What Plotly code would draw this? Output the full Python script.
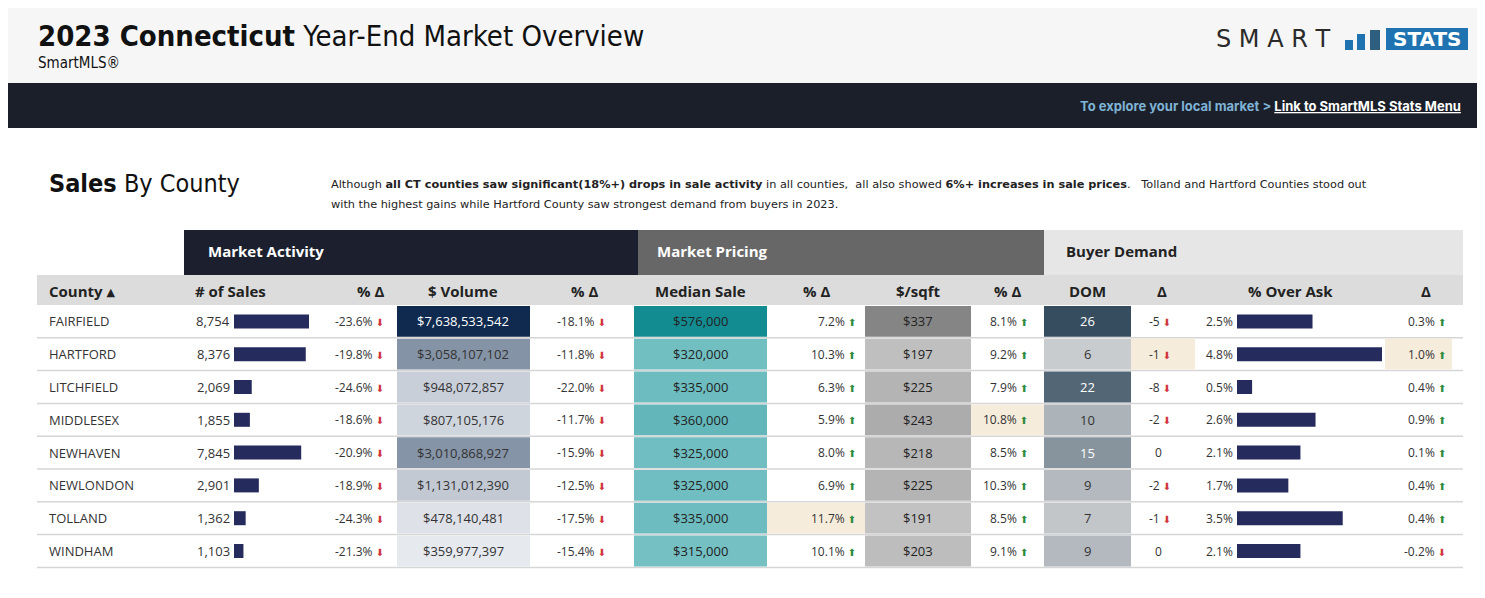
import plotly.graph_objects as go

counties = ["FAIRFIELD","HARTFORD","LITCHFIELD","MIDDLESEX","NEWHAVEN","NEWLONDON","TOLLAND","WINDHAM"]
sales = [8754, 8376, 2069, 1855, 7845, 2901, 1362, 1103]
sales_chg = [-23.6, -19.8, -24.6, -18.6, -20.9, -18.9, -24.3, -21.3]
volume = [7638533542, 3058107102, 948072857, 807105176, 3010868927, 1131012390, 478140481, 359977397]
volume_chg = [-18.1, -11.8, -22.0, -11.7, -15.9, -12.5, -17.5, -15.4]
median = [576000, 320000, 335000, 360000, 325000, 325000, 335000, 315000]
median_chg = [7.2, 10.3, 6.3, 5.9, 8.0, 6.9, 11.7, 10.1]
sqft = [337, 197, 225, 243, 218, 225, 191, 203]
sqft_chg = [8.1, 9.2, 7.9, 10.8, 8.5, 10.3, 8.5, 9.1]
dom = [26, 6, 22, 10, 15, 9, 7, 9]
dom_chg = [-5, -1, -8, -2, 0, -2, -1, 0]
over_ask = [2.5, 4.8, 0.5, 2.6, 2.1, 1.7, 3.5, 2.1]
over_ask_chg = [0.3, 1.0, 0.4, 0.9, 0.1, 0.4, 0.4, -0.2]

W, H = 1485, 598
OFF = 8  # page body margin
ROW0, RH = 305, 32.8
SANS = "Open Sans"
COND = "DejaVu Sans Condensed"
RED, GREEN = "#d0343c", "#2e8b3e"
HIL = "#f6ecdc"

fig = go.Figure()
shapes, ann = [], []

def rect(x0, y0, x1, y1, color):
    shapes.append(dict(type="rect", xref="x", yref="y", x0=x0, x1=x1, y0=y0, y1=y1,
                       fillcolor=color, line=dict(width=0), layer="below"))

def text(x, y, s, size=13, color="#222", anchor="center", family=SANS):
    ann.append(dict(x=x, y=y, xref="x", yref="y", text=s, showarrow=False, xanchor=anchor,
                    yanchor="middle", font=dict(size=size, color=color, family=family)))

def mix(c1, c2, t):
    a = [int(c1[i:i+2], 16) for i in (1, 3, 5)]
    b = [int(c2[i:i+2], 16) for i in (1, 3, 5)]
    return "#%02x%02x%02x" % tuple(round(a[k] + (b[k]-a[k])*t) for k in range(3))

def norm(vals, v):
    return (v - min(vals)) / (max(vals) - min(vals))

def arrow(v):
    if v > 0:
        return f'<span style="color:{GREEN};font-size:10px;font-family:DejaVu Sans">⬆</span>'
    if v < 0:
        return f'<span style="color:{RED};font-size:10px;font-family:DejaVu Sans">⬇</span>'
    return ""

# page header
rect(0, 0, W + OFF, 83, "#f6f6f6")
rect(4, 83, W - 4, 128, "#1b1f2a")
text(36, 36, "<b>2023 Connecticut</b> Year-End Market Overview", 29, "#111", "left", COND)
text(36, 63, "SmartMLS®", 15, "#111", "left", COND)
text(1214, 39, "S M A R T", 24, "#2b2b2b", "left", "DejaVu Sans")
rect(1345, 40, 1353, 50, "#1f73b0")
rect(1357, 34, 1365, 50, "#1f73b0")
rect(1370, 30, 1380, 50, "#2f5f7f")
rect(1386, 28, 1468, 50, "#1f73b0")
text(1427, 39, "<b>STATS</b>", 20, "white", "center", "DejaVu Sans")
text(1463, 106, '<b><span style="color:#7fb3d5">To explore your local market > </span>'
     '<span style="color:white"><u>Link to SmartMLS Stats Menu</u></span></b>', 13, "white", "right", "Inter")

# section title & description
text(47, 183, "<b>Sales</b> By County", 25, "#111", "left", COND)
text(329, 184, "Although <b>all CT counties saw significant(18%+) drops in sale activity</b> in all counties,  all also showed <b>6%+ increases in sale prices</b>.   Tolland and Hartford Counties stood out", 11.3, "#222", "left", "DejaVu Sans")
text(329, 204, "with the highest gains while Hartford County saw strongest demand from buyers in 2023.", 11.3, "#222", "left", "DejaVu Sans")

# group headers
rect(184, 230, 638, 275, "#1b1f2e")
rect(638, 230, 1044, 275, "#676767")
rect(1044, 230, 1463, 275, "#e6e6e6")
text(206, 251, "<b>Market Activity</b>", 15, "white", "left")
text(655, 251, "<b>Market Pricing</b>", 15, "white", "left")
text(1064, 251, "<b>Buyer Demand</b>", 15, "#222", "left")

# column header row
rect(37, 275, 1463, 305, "#dcdcdc")
hdrs = [(47, "County ▴", "left"), (230, "# of Sales", "center"), (386, "% Δ", "right"),
        (463, "$ Volume", "center"), (584, "% Δ", "center"), (700, "Median Sale", "center"),
        (816, "% Δ", "center"), (918, "$/sqft", "center"), (1007, "% Δ", "center"),
        (1087, "DOM", "center"), (1162, "Δ", "center"), (1290, "% Over Ask", "center"),
        (1426, "Δ", "center")]
for x, s, a in hdrs:
    text(x, 291, f"<b>{s}</b>", 15, "#222", a)

bar_y = []
for i, c in enumerate(counties):
    y0 = ROW0 + i*RH
    y1 = y0 + RH
    yc = (y0 + y1) / 2
    bar_y.append(yc)
    shapes.append(dict(type="line", xref="x", yref="y", x0=37, x1=1463, y0=y1, y1=y1,
                       line=dict(color="#d6d6d6", width=1.5), layer="below"))
    text(47, yc, c, 13, "#333", "left")
    text(232, yc, f"{sales[i]:,}", 13, "#333", "right")
    text(386, yc, f"{sales_chg[i]:.1f}% {arrow(sales_chg[i])}", 12, "#333", "right")
    t = norm(volume, volume[i])
    rect(397, y0+1, 530, y1-1, mix("#e6e9ee", "#0f2a4e", t ** 0.8))
    text(463, yc, f"${volume[i]:,}", 13, "white" if t > 0.6 else "#333")
    text(608, yc, f"{volume_chg[i]:.1f}% {arrow(volume_chg[i])}", 12, "#333", "right")
    t = norm(median, median[i])
    rect(634, y0+1, 767, y1-1, mix("#74c0c3", "#138c91", t))
    text(700, yc, f"${median[i]:,}", 13, "#222")
    if median_chg[i] == max(median_chg):
        rect(767, y0+1, 865, y1-1, HIL)
    text(858, yc, f"{median_chg[i]:.1f}% {arrow(median_chg[i])}", 12, "#333", "right")
    t = norm(sqft, sqft[i])
    rect(865, y0+1, 971, y1-1, mix("#c2c2c2", "#858585", t))
    text(918, yc, f"${sqft[i]}", 13, "#222")
    if sqft_chg[i] == max(sqft_chg):
        rect(971, y0+1, 1044, y1-1, HIL)
    text(1030, yc, f"{sqft_chg[i]:.1f}% {arrow(sqft_chg[i])}", 12, "#333", "right")
    t = norm(dom, dom[i])
    rect(1044, y0+1, 1131, y1-1, mix("#c9cccf", "#364d60", t))
    text(1087, yc, f"{dom[i]}", 13, "white" if t > 0.3 else "#333")
    if over_ask[i] == max(over_ask):
        rect(1131, y0+1, 1195, y1-1, HIL)
        rect(1385, y0+1, 1452, y1-1, HIL)
    text(1160, yc, f"{dom_chg[i]} {arrow(dom_chg[i])}", 12, "#333", "center")
    text(1235, yc, f"{over_ask[i]:.1f}%", 12, "#333", "right")
    text(1448, yc, f"{over_ask_chg[i]:.1f}% {arrow(over_ask_chg[i])}", 12, "#333", "right")

fig.add_trace(go.Bar(y=bar_y, x=[v * 75 / max(sales) for v in sales], base=234, orientation="h",
                     width=14, marker=dict(color="#262b5e", line=dict(width=0)),
                     hoverinfo="skip", showlegend=False))
fig.add_trace(go.Bar(y=bar_y, x=[v * 145 / max(over_ask) for v in over_ask], base=1237, orientation="h",
                     width=14, marker=dict(color="#262b5e", line=dict(width=0)),
                     hoverinfo="skip", showlegend=False))

fig.update_layout(width=W, height=H, margin=dict(l=0, r=0, t=0, b=0),
                  paper_bgcolor="white", plot_bgcolor="white",
                  xaxis=dict(range=[OFF, W + OFF], visible=False, fixedrange=True),
                  yaxis=dict(range=[H + OFF, OFF], visible=False, fixedrange=True),
                  shapes=shapes, annotations=ann, barmode="overlay")
fig.write_html("out.html")
